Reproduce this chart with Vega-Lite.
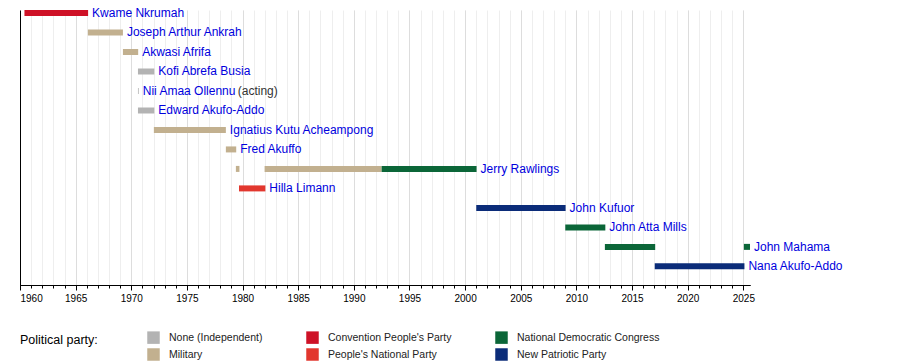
{
  "$schema": "https://vega.github.io/schema/vega-lite/v6.json",
  "width": 730,
  "height": 275,
  "autosize": {"type": "none"},
  "padding": {"left": 20, "top": 10, "right": 150, "bottom": 78},
  "background": "white",
  "config": {
    "view": {"stroke": null},
    "font": "Liberation Sans"
  },
  "data": {
    "values": [
      {"name": "Kwame Nkrumah", "row": 1, "start": 1960.4, "end": 1966.12, "party": "Convention People's Party"},
      {"name": "Joseph Arthur Ankrah", "row": 2, "start": 1966.1, "end": 1969.25, "party": "Military"},
      {"name": "Akwasi Afrifa", "row": 3, "start": 1969.25, "end": 1970.62, "party": "Military"},
      {"name": "Kofi Abrefa Busia", "row": 4, "start": 1970.6, "end": 1972.07, "party": "None (Independent)"},
      {"name": "Nii Amaa Ollennu", "row": 5, "start": 1970.6, "end": 1970.67, "party": "None (Independent)", "note": "(acting)"},
      {"name": "Edward Akufo-Addo", "row": 6, "start": 1970.6, "end": 1972.07, "party": "None (Independent)"},
      {"name": "Ignatius Kutu Acheampong", "row": 7, "start": 1972.03, "end": 1978.5, "party": "Military"},
      {"name": "Fred Akuffo", "row": 8, "start": 1978.5, "end": 1979.43, "party": "Military"},
      {"name": "Jerry Rawlings", "row": 9, "start": 1979.4, "end": 1979.72, "party": "Military"},
      {"name": "Jerry Rawlings", "row": 9, "start": 1981.98, "end": 1992.5, "party": "Military"},
      {"name": "Jerry Rawlings", "row": 9, "start": 1992.5, "end": 2001.03, "party": "National Democratic Congress"},
      {"name": "Hilla Limann", "row": 10, "start": 1979.68, "end": 1982.05, "party": "People's National Party"},
      {"name": "John Kufuor", "row": 11, "start": 2001.0, "end": 2009.03, "party": "New Patriotic Party"},
      {"name": "John Atta Mills", "row": 12, "start": 2009.0, "end": 2012.6, "party": "National Democratic Congress"},
      {"name": "John Mahama", "row": 13, "start": 2012.56, "end": 2017.08, "party": "National Democratic Congress"},
      {"name": "John Mahama", "row": 13, "start": 2025.05, "end": 2025.6, "party": "National Democratic Congress"},
      {"name": "Nana Akufo-Addo", "row": 14, "start": 2017.04, "end": 2025.1, "party": "New Patriotic Party"}
    ]
  },
  "layer": [
    {
      "mark": {"type": "bar", "orient": "horizontal", "size": 6},
      "encoding": {
        "x": {
          "field": "start", "type": "quantitative",
          "scale": {"domain": [1960, 2025.6], "nice": false, "zero": false, "padding": 0},
          "axis": {
            "orient": "bottom",
            "title": null,
            "values": [1960,1961,1962,1963,1964,1965,1966,1967,1968,1969,1970,1971,1972,1973,1974,1975,1976,1977,1978,1979,1980,1981,1982,1983,1984,1985,1986,1987,1988,1989,1990,1991,1992,1993,1994,1995,1996,1997,1998,1999,2000,2001,2002,2003,2004,2005,2006,2007,2008,2009,2010,2011,2012,2013,2014,2015,2016,2017,2018,2019,2020,2021,2022,2023,2024,2025],
            "grid": true, "gridColor": "#eeeeee", "gridWidth": 1,
            "labels": false,
            "ticks": true, "tickSize": 3, "tickColor": "#000000",
            "domain": true, "domainColor": "#000000"
          }
        },
        "x2": {"field": "end"},
        "y": {
          "field": "row", "type": "quantitative",
          "scale": {"domain": [0.846, 14.956], "nice": false, "zero": false, "reverse": true, "padding": 0},
          "axis": {"title": null, "labels": false, "ticks": false, "grid": false, "domain": true, "domainColor": "#000000"}
        },
        "color": {
          "field": "party", "type": "nominal",
          "scale": {
            "domain": ["None (Independent)", "Convention People's Party", "National Democratic Congress", "Military", "People's National Party", "New Patriotic Party"],
            "range": ["#b3b3b3", "#ce1126", "#0b6638", "#c2b08f", "#e2372e", "#0b2c79"]
          },
          "legend": {
            "title": "Political party:",
            "orient": "none",
            "legendX": 0,
            "legendY": 321,
            "direction": "horizontal",
            "columns": 3,
            "columnPadding": 43,
            "rowPadding": 4,
            "padding": 0,
            "titleOrient": "left",
            "titleAnchor": "start",
            "titleBaseline": "line-top",
            "titleLineHeight": 19,
            "titlePadding": 49,
            "titleFontSize": 12.5,
            "titleFontWeight": "normal",
            "titleColor": "#000000",
            "titleFont": "Liberation Sans",
            "symbolType": "square",
            "symbolSize": 156,
            "symbolStrokeWidth": 0,
            "symbolOpacity": 1,
            "labelFont": "Liberation Sans",
            "labelFontSize": 10.5,
            "labelColor": "#222222",
            "labelOffset": 9,
            "labelLimit": 300
          }
        }
      }
    },
    {
      "transform": [
        {"aggregate": [{"op": "max", "field": "end", "as": "end"}], "groupby": ["name", "row"]}
      ],
      "mark": {"type": "text", "align": "left", "baseline": "middle", "dx": 4, "fontSize": 12, "font": "Liberation Sans", "color": "#0000dd"},
      "encoding": {
        "x": {
          "field": "end", "type": "quantitative",
          "axis": {
            "orient": "bottom",
            "title": null,
            "values": [1960,1965,1970,1975,1980,1985,1990,1995,2000,2005,2010,2015,2020,2025],
            "format": "d",
            "grid": true, "gridColor": "#dddddd", "gridWidth": 1,
            "labels": true, "labelFontSize": 10, "labelColor": "#000000", "labelFont": "Liberation Sans", "labelPadding": 3,
            "ticks": true, "tickSize": 5, "tickColor": "#000000",
            "domain": true, "domainColor": "#000000"
          }
        },
        "y": {"field": "row", "type": "quantitative"},
        "text": {"field": "name"}
      }
    },
    {
      "transform": [{"filter": "datum.note"}],
      "mark": {"type": "text", "align": "left", "baseline": "middle", "dx": 99, "fontSize": 12, "font": "Liberation Sans", "color": "#333333"},
      "encoding": {
        "x": {"field": "end", "type": "quantitative", "axis": null},
        "y": {"field": "row", "type": "quantitative"},
        "text": {"field": "note"}
      }
    }
  ],
  "resolve": {"axis": {"x": "independent"}}
}
